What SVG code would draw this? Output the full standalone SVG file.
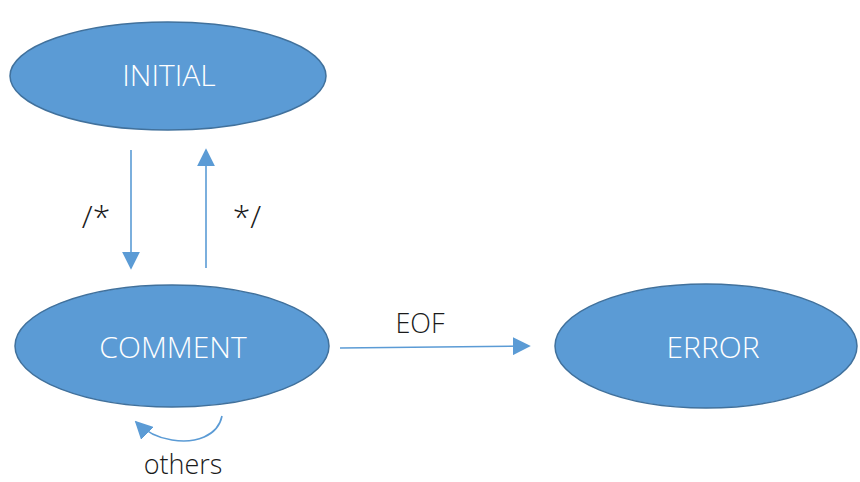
<svg xmlns="http://www.w3.org/2000/svg" width="860" height="482" viewBox="0 0 860 482">
  <style>
    .state ellipse { fill: #5b9bd5; stroke: #41719c; stroke-width: 1.5; }
    .state text { fill: #ffffff; font-family: "Open Sans", "Noto Sans", "Liberation Sans", sans-serif; font-weight: 300; font-size: 30px; text-anchor: middle; }
    .edge { fill: none; stroke: #5b9bd5; stroke-width: 1.6; }
    .label { fill: #1a1a1a; font-family: "Open Sans", "Noto Sans", "Liberation Sans", sans-serif; font-weight: 300; font-size: 27px; text-anchor: middle; }
    .op { font-size: 32px; }
  </style>
  <defs>
    <marker id="tip" viewBox="0 0 10 10" refX="9" refY="5" markerWidth="18" markerHeight="18" markerUnits="userSpaceOnUse" orient="auto">
      <path d="M0,0 L10,5 L0,10 Z" fill="#5b9bd5"/>
    </marker>
  </defs>

  <g id="initial" class="state">
    <ellipse cx="168" cy="76" rx="158" ry="54"/>
    <text x="169" y="86">INITIAL</text>
  </g>
  <g id="comment" class="state">
    <ellipse cx="172" cy="346" rx="157" ry="61"/>
    <text x="173" y="358">COMMENT</text>
  </g>
  <g id="error" class="state">
    <ellipse cx="706" cy="346" rx="151" ry="62"/>
    <text x="713" y="358">ERROR</text>
  </g>

  <g id="connectors">
    <line class="edge" x1="131" y1="150" x2="131" y2="268" marker-end="url(#tip)"/>
    <line class="edge" x1="206" y1="268" x2="206" y2="150" marker-end="url(#tip)"/>
    <line class="edge" x1="340" y1="348" x2="529" y2="346" marker-end="url(#tip)"/>
    <path class="edge" d="M222,416 C218,436 195,444 172,440 C158,438 146,432 136,422" marker-end="url(#tip)"/>
    <text class="label op" x="96" y="228">/*</text>
    <text class="label op" x="247" y="228">*/</text>
    <text class="label" x="420" y="333">EOF</text>
    <text class="label" x="183" y="474">others</text>
  </g>
</svg>
